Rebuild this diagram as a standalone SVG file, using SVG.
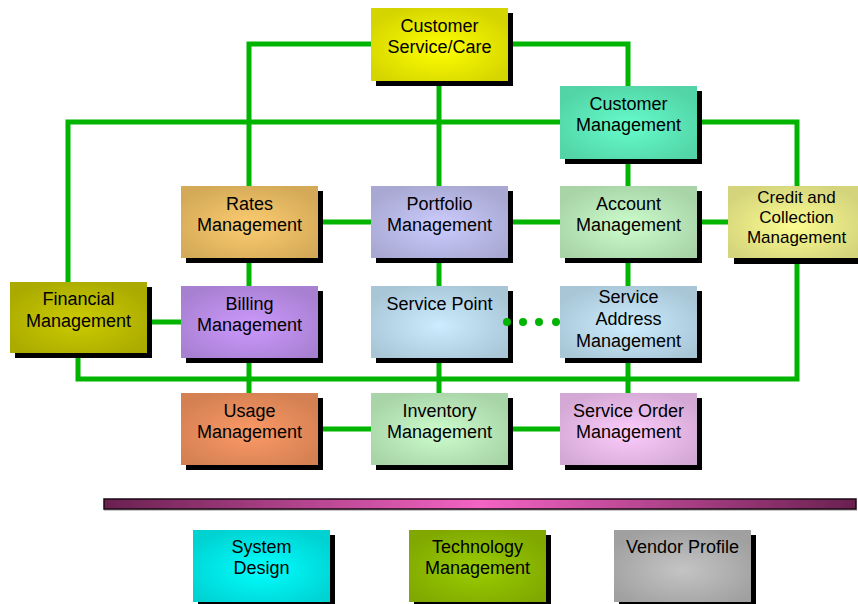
<svg xmlns="http://www.w3.org/2000/svg" width="858" height="604" viewBox="0 0 858 604">
<style>
.sh{fill:#000}
.ln{fill:none;stroke:#00b400;stroke-width:5;stroke-linejoin:miter;stroke-linecap:butt}
.dot{fill:#00b400}
text{font-family:"Liberation Sans",Arial,sans-serif;font-size:18px;fill:#000;text-anchor:middle}
.sm{font-size:17px}
</style>
<defs>
<radialGradient id="gCS" cx="50%" cy="55%" r="60%"><stop offset="0" stop-color="#ffff00"/><stop offset="1" stop-color="#d4d400"/></radialGradient>
<radialGradient id="gCM" cx="50%" cy="55%" r="60%"><stop offset="0" stop-color="#66fccc"/><stop offset="1" stop-color="#52d4a6"/></radialGradient>
<radialGradient id="gRA" cx="50%" cy="55%" r="60%"><stop offset="0" stop-color="#fccc70"/><stop offset="1" stop-color="#d4aa58"/></radialGradient>
<radialGradient id="gPO" cx="50%" cy="55%" r="60%"><stop offset="0" stop-color="#ccccff"/><stop offset="1" stop-color="#a8a8d2"/></radialGradient>
<radialGradient id="gAC" cx="50%" cy="55%" r="60%"><stop offset="0" stop-color="#ccfccc"/><stop offset="1" stop-color="#a8d4a8"/></radialGradient>
<radialGradient id="gCR" cx="50%" cy="55%" r="60%"><stop offset="0" stop-color="#fcfc90"/><stop offset="1" stop-color="#d4d47c"/></radialGradient>
<radialGradient id="gFI" cx="50%" cy="55%" r="60%"><stop offset="0" stop-color="#cccc00"/><stop offset="1" stop-color="#aaaa00"/></radialGradient>
<radialGradient id="gBI" cx="50%" cy="55%" r="60%"><stop offset="0" stop-color="#cc99fc"/><stop offset="1" stop-color="#a880d2"/></radialGradient>
<radialGradient id="gSP" cx="50%" cy="55%" r="60%"><stop offset="0" stop-color="#ccecff"/><stop offset="1" stop-color="#a8c6d6"/></radialGradient>
<radialGradient id="gUS" cx="50%" cy="55%" r="60%"><stop offset="0" stop-color="#fc9966"/><stop offset="1" stop-color="#d48052"/></radialGradient>
<radialGradient id="gSO" cx="50%" cy="55%" r="60%"><stop offset="0" stop-color="#fcccfc"/><stop offset="1" stop-color="#d4a8d4"/></radialGradient>
<radialGradient id="gSD" cx="50%" cy="55%" r="60%"><stop offset="0" stop-color="#00ffff"/><stop offset="1" stop-color="#00d2d2"/></radialGradient>
<radialGradient id="gTM" cx="50%" cy="55%" r="60%"><stop offset="0" stop-color="#99cc00"/><stop offset="1" stop-color="#80a800"/></radialGradient>
<radialGradient id="gVP" cx="50%" cy="55%" r="60%"><stop offset="0" stop-color="#c4c4c4"/><stop offset="1" stop-color="#a0a0a0"/></radialGradient>
<linearGradient id="gBar" x1="0" y1="0" x2="1" y2="0"><stop offset="0" stop-color="#6a2050"/><stop offset="0.5" stop-color="#f464c4"/><stop offset="1" stop-color="#6a2050"/></linearGradient>
</defs>

<g id="customer-service">
<rect class="sh" x="376" y="13" width="137" height="73"/>
<rect x="371" y="8" width="137" height="73" fill="url(#gCS)"/>
<text x="439.5" y="32">Customer</text><text x="439.5" y="53">Service/Care</text>
</g>
<g id="customer-management">
<rect class="sh" x="565" y="91" width="137" height="73"/>
<rect x="560" y="86" width="137" height="73" fill="url(#gCM)"/>
<text x="628.5" y="110">Customer</text><text x="628.5" y="131">Management</text>
</g>
<g id="rates">
<rect class="sh" x="186" y="191" width="137" height="72"/>
<rect x="181" y="186" width="137" height="72" fill="url(#gRA)"/>
<text x="249.5" y="210">Rates</text><text x="249.5" y="231">Management</text>
</g>
<g id="portfolio">
<rect class="sh" x="376" y="191" width="137" height="72"/>
<rect x="371" y="186" width="137" height="72" fill="url(#gPO)"/>
<text x="439.5" y="210">Portfolio</text><text x="439.5" y="231">Management</text>
</g>
<g id="account">
<rect class="sh" x="565" y="191" width="137" height="72"/>
<rect x="560" y="186" width="137" height="72" fill="url(#gAC)"/>
<text x="628.5" y="210">Account</text><text x="628.5" y="231">Management</text>
</g>
<g id="credit">
<rect class="sh" x="734" y="191" width="130" height="73"/>
<rect x="728" y="186" width="130" height="72" fill="url(#gCR)"/>
<text class="sm" x="796.5" y="203">Credit and</text><text class="sm" x="796.5" y="223">Collection</text><text class="sm" x="796.5" y="243">Management</text>
</g>
<g id="financial">
<rect class="sh" x="15" y="287" width="137" height="71"/>
<rect x="10" y="282" width="137" height="71" fill="url(#gFI)"/>
<text x="78.5" y="305">Financial</text><text x="78.5" y="327">Management</text>
</g>
<g id="billing">
<rect class="sh" x="186" y="291" width="137" height="72"/>
<rect x="181" y="286" width="137" height="72" fill="url(#gBI)"/>
<text x="249.5" y="310">Billing</text><text x="249.5" y="331">Management</text>
</g>
<g id="service-point">
<rect class="sh" x="376" y="291" width="137" height="72"/>
<rect x="371" y="286" width="137" height="72" fill="url(#gSP)"/>
<text x="439.5" y="310">Service Point</text>
</g>
<g id="service-address">
<rect class="sh" x="565" y="291" width="137" height="72"/>
<rect x="560" y="286" width="137" height="72" fill="url(#gSP)"/>
<text x="628.5" y="303">Service</text><text x="628.5" y="325">Address</text><text x="628.5" y="347">Management</text>
</g>
<g id="usage">
<rect class="sh" x="186" y="398" width="137" height="72"/>
<rect x="181" y="393" width="137" height="72" fill="url(#gUS)"/>
<text x="249.5" y="417">Usage</text><text x="249.5" y="438">Management</text>
</g>
<g id="inventory">
<rect class="sh" x="376" y="398" width="137" height="72"/>
<rect x="371" y="393" width="137" height="72" fill="url(#gAC)"/>
<text x="439.5" y="417">Inventory</text><text x="439.5" y="438">Management</text>
</g>
<g id="service-order">
<rect class="sh" x="565" y="398" width="137" height="72"/>
<rect x="560" y="393" width="137" height="72" fill="url(#gSO)"/>
<text x="628.5" y="417">Service Order</text><text x="628.5" y="438">Management</text>
</g>

<g id="connectors">
<path class="ln" d="M249,186 V44 H371"/>
<path class="ln" d="M513,44 H628 V86"/>
<path class="ln" d="M439,86 V186"/>
<path class="ln" d="M68,282 V122 H560"/>
<path class="ln" d="M702,122 H797 V186"/>
<path class="ln" d="M628,164 V186"/>
<path class="ln" d="M323,222 H371 M513,222 H560 M702,222 H728"/>
<path class="ln" d="M249,263 V286 M439,263 V286 M628,263 V286"/>
<path class="ln" d="M152,322 H181"/>
<path class="ln" d="M78,358 V379 H797 V264"/>
<path class="ln" d="M249,363 V393 M439,363 V393 M628,363 V393"/>
<path class="ln" d="M323,429 H371 M513,429 H560"/>
<circle class="dot" cx="507" cy="322" r="4"/>
<circle class="dot" cx="523" cy="322" r="4"/>
<circle class="dot" cx="539" cy="322" r="4"/>
<circle class="dot" cx="556" cy="322" r="4"/>
</g>

<g id="divider">
<rect x="104" y="509" width="753" height="2" fill="#c8c8c8"/>
<rect x="104" y="499" width="752" height="10" fill="url(#gBar)" stroke="#1a0a14" stroke-width="1.5"/>
</g>

<g id="system-design">
<rect class="sh" x="198" y="535" width="137" height="72"/>
<rect x="193" y="530" width="137" height="72" fill="url(#gSD)"/>
<text x="261.5" y="553">System</text><text x="261.5" y="574">Design</text>
</g>
<g id="technology">
<rect class="sh" x="414" y="535" width="137" height="72"/>
<rect x="409" y="530" width="137" height="72" fill="url(#gTM)"/>
<text x="477.5" y="553">Technology</text><text x="477.5" y="574">Management</text>
</g>
<g id="vendor">
<rect class="sh" x="619" y="535" width="137" height="72"/>
<rect x="614" y="530" width="137" height="72" fill="url(#gVP)"/>
<text x="682.5" y="553">Vendor Profile</text>
</g>
</svg>
